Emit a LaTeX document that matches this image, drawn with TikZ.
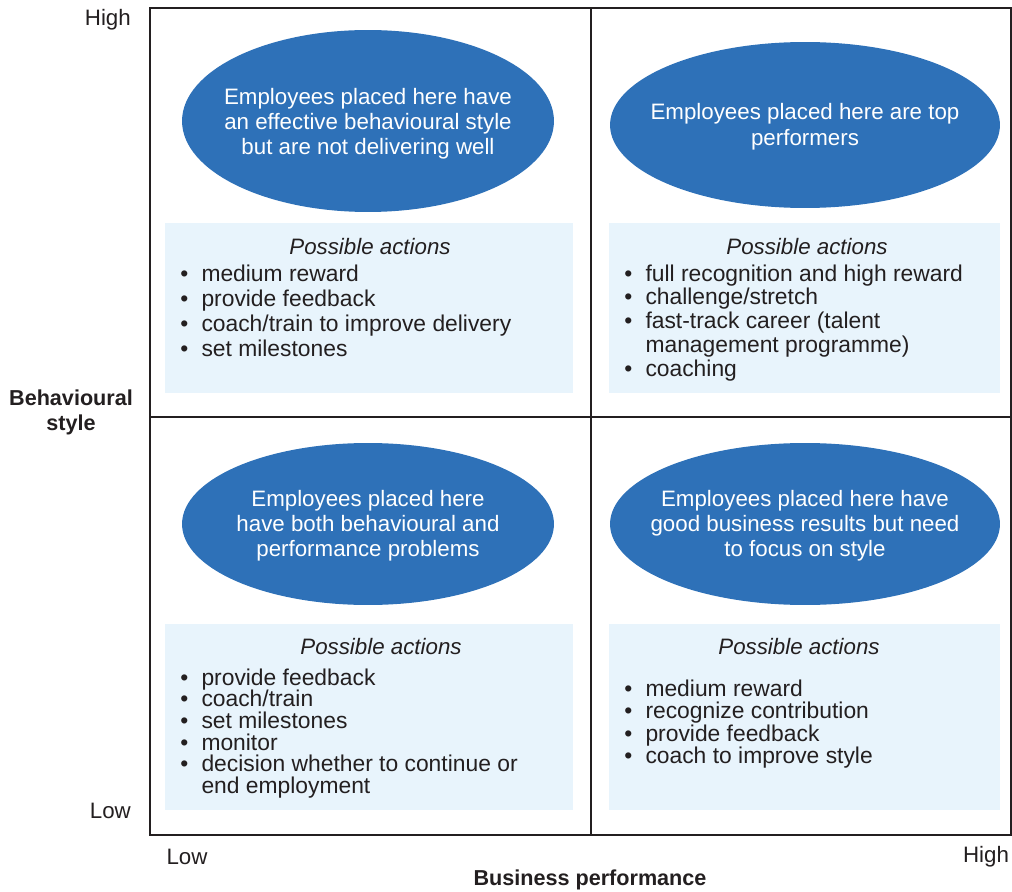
\documentclass[tikz,border=0pt]{standalone}
\usepackage{fontspec}
\setmainfont{Liberation Sans}
\usepackage{tikz}
\usetikzlibrary{positioning, shapes.geometric}

\definecolor{blobblue}{RGB}{46,113,184}
\definecolor{boxblue}{RGB}{232,244,252}
\definecolor{inkgrey}{RGB}{35,31,32}

\tikzset{
  blob/.style={ellipse, fill=blobblue, inner sep=0pt},
  blobtext/.style={text=white, align=center, inner sep=0pt,
    font=\fontsize{12.7}{14.3}\selectfont},
  acttitle/.style={text=inkgrey, font=\fontsize{12.7}{14.3}\selectfont\itshape},
  actlist/.style={text=inkgrey, anchor=base west, inner sep=0pt},
  axislabel/.style={text=inkgrey, font=\fontsize{12.7}{14.3}\selectfont},
  axistitle/.style={text=inkgrey, align=center, font=\fontsize{12.3}{14.3}\selectfont\bfseries}
}
\newcommand{\bul}{\textbullet}

\begin{document}
\begin{tikzpicture}[x=0.02cm, y=-0.02cm]
    \useasboundingbox (0,0) rectangle (1012,892);

    % Frame and quadrants
    \draw[inkgrey, line width=0.7pt] (150,8) rectangle (1011,835);
    \draw[inkgrey, line width=0.7pt] (591,8) -- (591,835);
    \draw[inkgrey, line width=0.7pt] (150,417) -- (1011,417);

    % Action boxes
    \fill[boxblue] (165,223) rectangle (573,393);
    \fill[boxblue] (609,223) rectangle (1000,393);
    \fill[boxblue] (165,624) rectangle (573,810);
    \fill[boxblue] (609,624) rectangle (1000,810);

    % Ellipses
    \node[blob, minimum width=7.44cm, minimum height=3.64cm] (tl) at (368,121) {};
    \node[blob, minimum width=7.8cm, minimum height=3.32cm] (tr) at (805,125) {};
    \node[blob, minimum width=7.44cm, minimum height=3.24cm] (bl) at (368,524) {};
    \node[blob, minimum width=7.8cm, minimum height=3.24cm] (br) at (805,524) {};

    \node[blobtext] (tltext) at ([yshift=-1.5pt]tl.center)
        {Employees placed here have\\an effective behavioural style\\but are not delivering well};
    \node[blobtext] (trtext) at ([yshift=-1pt]tr.center)
        {Employees placed here are top\\performers};
    \node[blobtext] (bltext) at ([yshift=-1pt]bl.center)
        {Employees placed here\\have both behavioural and\\performance problems};
    \node[blobtext] (brtext) at ([yshift=-1pt]br.center)
        {Employees placed here have\\good business results but need\\to focus on style};

    % Possible actions
    \node[acttitle] (tltitle) at (370,247) {Possible actions};
    \node[acttitle] (trtitle) at (807,247) {Possible actions};
    \node[acttitle] (bltitle) at (381,647) {Possible actions};
    \node[acttitle] (brtitle) at (799,647) {Possible actions};

    \node[actlist, font=\fontsize{13}{14.4}\selectfont] (tllist) at (180,281)
        {\begin{tabular}[t]{@{}l@{\hspace{7.5pt}}l@{}}
         \bul & medium reward\\
         \bul & provide feedback\\
         \bul & coach/train to improve delivery\\
         \bul & set milestones
         \end{tabular}};
    \node[actlist, font=\fontsize{13}{13.6}\selectfont] (trlist) at (624,281)
        {\begin{tabular}[t]{@{}l@{\hspace{7.5pt}}l@{}}
         \bul & full recognition and high reward\\
         \bul & challenge/stretch\\
         \bul & fast-track career (talent\\
              & management programme)\\
         \bul & coaching
         \end{tabular}};
    \node[actlist, font=\fontsize{13}{12.4}\selectfont] (bllist) at (180,685)
        {\begin{tabular}[t]{@{}l@{\hspace{7.5pt}}l@{}}
         \bul & provide feedback\\[-0.8pt]
         \bul & coach/train\\[-0.8pt]
         \bul & set milestones\\[-0.8pt]
         \bul & monitor\\[-0.8pt]
         \bul & decision whether to continue or\\[-0.8pt]
              & end employment
         \end{tabular}};
    \node[actlist, font=\fontsize{13}{12.9}\selectfont] (brlist) at (624,696)
        {\begin{tabular}[t]{@{}l@{\hspace{7.5pt}}l@{}}
         \bul & medium reward\\[-0.4pt]
         \bul & recognize contribution\\[-0.4pt]
         \bul & provide feedback\\[-0.4pt]
         \bul & coach to improve style
         \end{tabular}};

    % Axis labels
    \node[axislabel, anchor=east] (yhigh) at (137,20) {High};
    \node[axislabel, anchor=east] (ylow) at (137,811) {Low};
    \node[axistitle] (ytitle) at (71,412) {Behavioural\\style};
    \node[axislabel] (xlow) at (187,857) {Low};
    \node[axislabel] (xhigh) at (986,857) {High};
    \node[axistitle] (xtitle) at (590,880) {Business performance};
\end{tikzpicture}
\end{document}
